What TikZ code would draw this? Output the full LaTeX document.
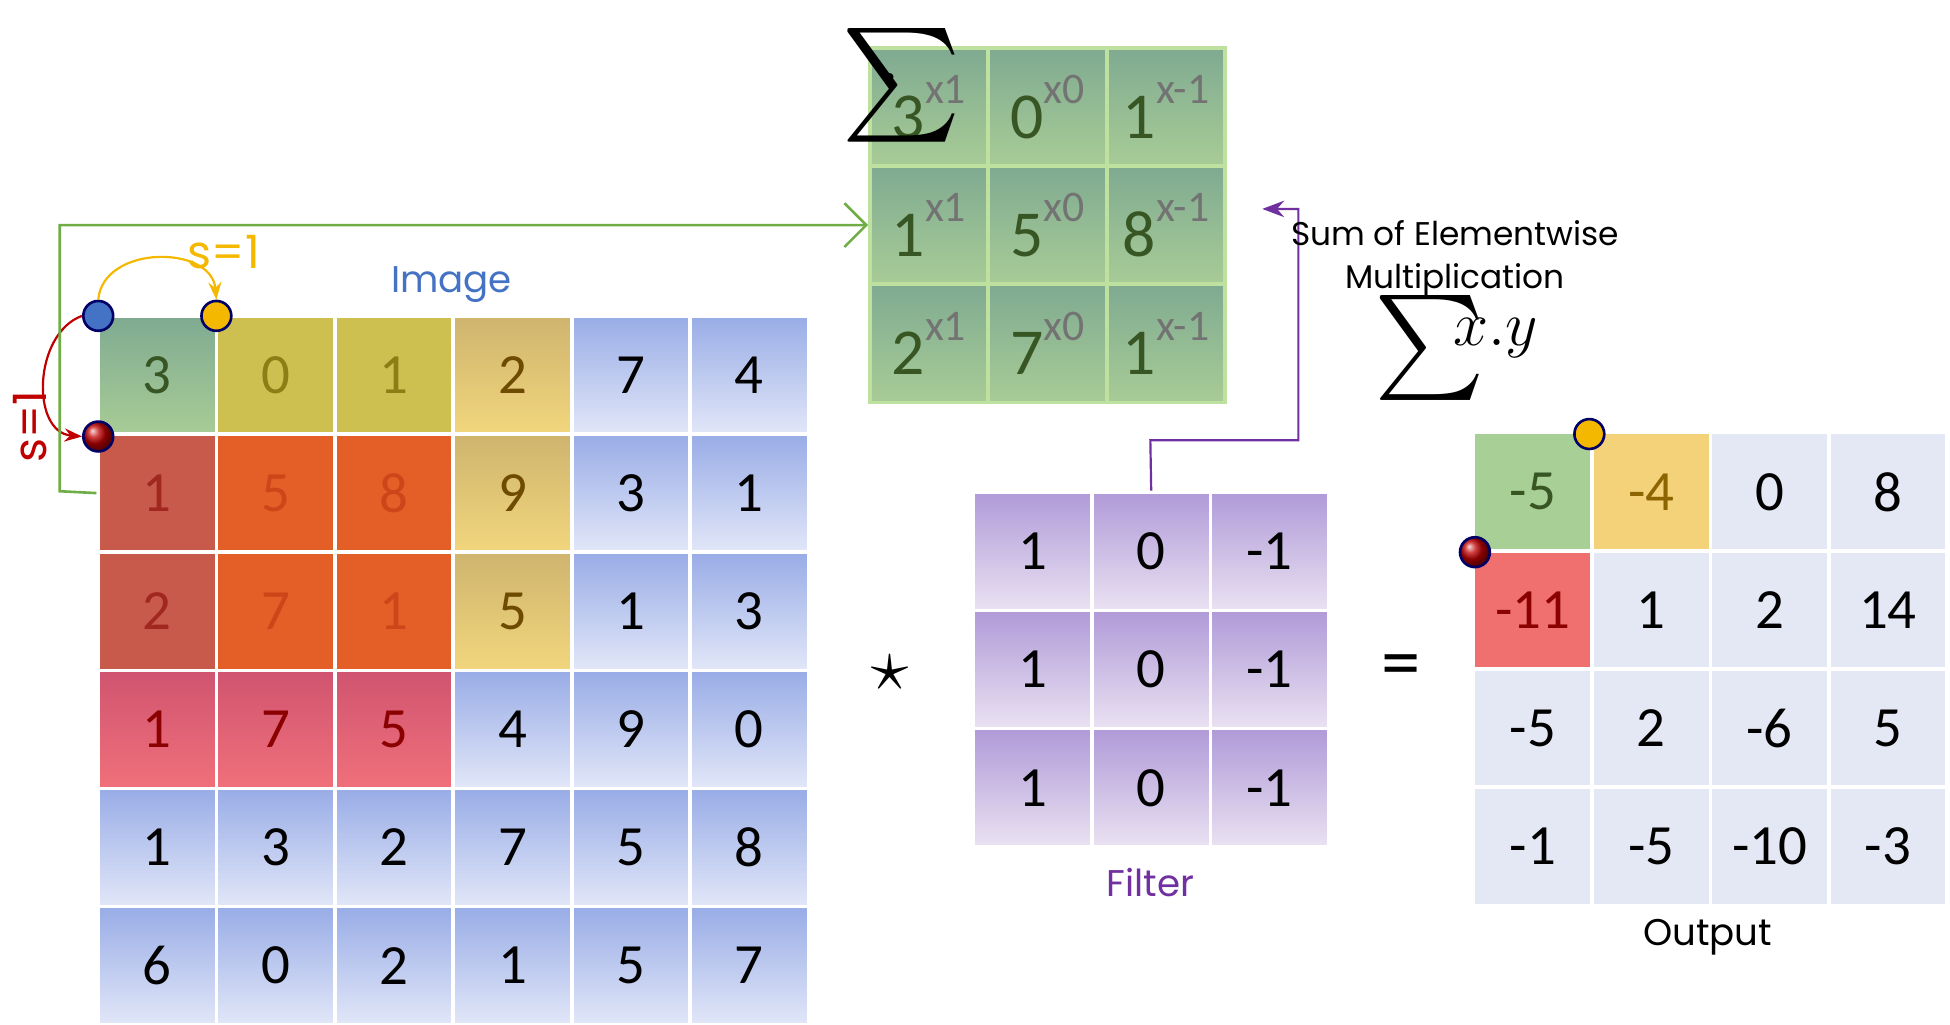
\documentclass[tikz,border=0pt]{standalone}
\usepackage{fontspec}
\setmainfont{Carlito}
\newfontfamily\lab{Poppins}
\usetikzlibrary{arrows.meta}
\definecolor{bt}{HTML}{98ACE6}\definecolor{bb}{HTML}{E2E7F8}
\definecolor{imgblue}{HTML}{4472C4}
\definecolor{syel}{HTML}{F5B800}
\definecolor{sred}{HTML}{C00000}
\definecolor{flp}{HTML}{7030A0}
\definecolor{dg}{HTML}{375623}
\definecolor{gt}{HTML}{7FAA91}\definecolor{gb}{HTML}{A8CC96}\definecolor{gline}{HTML}{BEE1A0}
\definecolor{oly}{HTML}{CEC050}\definecolor{olyt}{HTML}{8C7D14}
\definecolor{tant}{HTML}{CEB46E}\definecolor{tanb}{HTML}{F2D67D}\definecolor{tantx}{HTML}{6E4B00}
\definecolor{brr}{HTML}{C85A4B}\definecolor{brrt}{HTML}{A0281E}
\definecolor{org}{HTML}{E45E28}\definecolor{orgt}{HTML}{CD4619}
\definecolor{pkt}{HTML}{D05470}\definecolor{pkb}{HTML}{F0707A}\definecolor{dred}{HTML}{8B0000}
\definecolor{pt}{HTML}{B09AD8}\definecolor{pb}{HTML}{EAE2F2}
\definecolor{ogr}{HTML}{E4E8F4}\definecolor{og}{HTML}{A8D096}\definecolor{oy}{HTML}{F4D27A}\definecolor{oyt}{HTML}{8C6400}\definecolor{or}{HTML}{F07070}
\definecolor{lgreen}{HTML}{70AD47}
\tikzset{
 cell/.style={minimum width=0.95cm,minimum height=0.95cm,inner sep=0,draw=white,line width=0.8pt,font=\fontsize{13}{13}\selectfont},
 dot/.style={circle,minimum size=0.24cm,inner sep=0,draw=black!60!blue,line width=0.6pt},
 lbl/.style={font=\lab\fontsize{8.5}{8.5}\selectfont},
 olc/.style={cell,fill=oly,text=olyt},
 tanc/.style={cell,top color=tant,bottom color=tanb,text=tantx},
 brc/.style={cell,fill=brr,text=brrt},
 orc/.style={cell,fill=org,text=orgt},
 pkc/.style={cell,top color=pkt,bottom color=pkb,text=dred}
}
\newcommand{\sx}[2]{{\color{dg}#1}\raisebox{1.1ex}{\color{black!55}\fontsize{10}{10}\selectfont x#2}}
\begin{document}
\begin{tikzpicture}[x=0.01cm,y=-0.01cm]
\useasboundingbox (0,0) rectangle (1568,824);
% image grid
\foreach \r/\row in {0/{3,0,1,2,7,4},1/{1,5,8,9,3,1},2/{2,7,1,5,1,3},3/{1,7,5,4,9,0},4/{1,3,2,7,5,8},5/{6,0,2,1,5,7}}{
 \foreach \v [count=\c from 0] in \row {
  \node[cell,top color=bt,bottom color=bb] (i\r\c) at ({126.5+95.2*\c},{301.5+95*\r}) {\v};
 }}
% overlays
\node[cell,top color=gt,bottom color=gb,text=dg] at (i00) {3};
\node[olc] at (i01) {0};
\node[olc] at (i02) {1};
\node[tanc] at (i03) {2};
\node[tanc] at (i13) {9};
\node[tanc] at (i23) {5};
\node[brc] at (i10) {1};
\node[brc] at (i20) {2};
\node[orc] at (i11) {5};
\node[orc] at (i12) {8};
\node[orc] at (i21) {7};
\node[orc] at (i22) {1};
\node[pkc] at (i30) {1};
\node[pkc] at (i31) {7};
\node[pkc] at (i32) {5};
\node[lbl,text=imgblue] (imglbl) at (363,229) {Image};
% dots and strides
\node[dot,fill=imgblue] (bd) at (79,254) {};
\node[dot,fill=syel] (yd) at (174,254) {};
\node[dot,ball color=sred] (rd) at (79,351) {};
\draw[-{Stealth[length=4pt]},syel,line width=0.5pt] (bd.north) to[out=85,in=95,looseness=1.2] (yd.north);
\draw[-{Stealth[length=4pt]},sred,line width=0.5pt] (bd.west) to[out=200,in=175,looseness=1.1] (rd.west);
\node[font=\lab\fontsize{10.5}{10.5}\selectfont,text=syel] (s1) at (180,203) {s=1};
\node[font=\lab\fontsize{10.5}{10.5}\selectfont,text=sred,rotate=90] (s2) at (24,343) {s=1};
% green matrix
\foreach \r/\row in {0/{3/1,0/0,1/-1},1/{1/1,5/0,8/-1},2/{2/1,7/0,1/-1}}{
 \foreach \v/\w [count=\c from 0] in \row {
  \node[cell,draw=gline,top color=gt,bottom color=gb,font=\fontsize{15}{15}\selectfont] (g\r\c) at ({747+95.3*\c},{86+95*\r}) {\sx{\v}{\w}};
 }}
\node[anchor=north west,inner sep=0] (sig) at (676,22) {\scalebox{2.6}{$\sum$}};
\node[font=\fontsize{14}{14}\selectfont,inner sep=0] (sigdot) at (716,62) {.};
\draw[-{Straight Barb[length=5pt]},lgreen,line width=0.6pt] (i10.west) -- (48,395) -- (48,181) -- (g10.west);
% filter
\foreach \r in {0,1,2}{
 \foreach \v [count=\c from 0] in {1,0,-1}{
  \node[cell,top color=pt,bottom color=pb] (f\r\c) at ({830.5+95.2*\c},{443.5+95*\r}) {\v};
 }}
\node[lbl,text=flp] (flbl) at (925,710) {Filter};
\coordinate (farr) at (1015,168);
\draw[-{Stealth[length=5pt]},flp,line width=0.5pt] (f01.north) -- (925,354) -- (1044,354) -- (1044,168) -- (farr);
\node[font=\lab\fontsize{7.5}{10}\selectfont,align=center] (sumtxt) at (1170,208) {Sum of Elementwise\\Multiplication};
\node[inner sep=0] (sumf) at (1150,280) {\scalebox{2.4}{$\sum$}};
\node[font=\fontsize{14}{14}\selectfont,anchor=west,inner sep=0] (xy) at (1168,272) {$x.y$};
\node[font=\fontsize{18}{18}\selectfont] (star) at (716,541) {$\star$};
\node[font=\fontsize{18}{18}\selectfont] (eq) at (1127,540) {=};
% output
\foreach \r/\row in {0/{-5,-4,0,8},1/{-11,1,2,14},2/{-5,2,-6,5},3/{-1,-5,-10,-3}}{
 \foreach \v [count=\c from 0] in \row {
  \node[cell,fill=ogr] (o\r\c) at ({1232.5+95.2*\c},{395.5+95*\r}) {\v};
 }}
\node[cell,fill=og,text=dg] at (o00) {-5};
\node[cell,fill=oy,text=oyt] at (o01) {-4};
\node[cell,fill=or,text=dred] at (o10) {-11};
\node[dot,fill=syel] (yd2) at (1278,349) {};
\node[dot,ball color=sred] (rd2) at (1186,444) {};
\node[lbl] (olbl) at (1373,754) {Output};
\end{tikzpicture}
\end{document}
